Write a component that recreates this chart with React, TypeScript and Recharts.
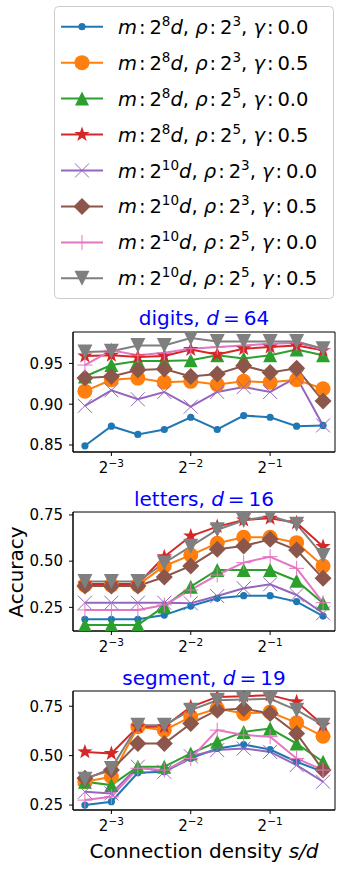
import { Line, LineChart, ReferenceArea, XAxis, YAxis } from "recharts";

const FONT = "DejaVu Sans";

// s/d at 1/3-octave steps, 2^-10/3 ... 2^-1/3
const DENSITY = [0.0992, 0.125, 0.1575, 0.1984, 0.25, 0.315, 0.3969, 0.5, 0.63, 0.7937];
const X_TICKS = [0.125, 0.25, 0.5];
const X_DOMAIN = [0.0894, 0.881];

const SERIES = [
  { key: "a", m: "8", rho: "3", gamma: "0.0", color: "#1f77b4", marker: "dot" },
  { key: "b", m: "8", rho: "3", gamma: "0.5", color: "#ff7f0e", marker: "circle" },
  { key: "c", m: "8", rho: "5", gamma: "0.0", color: "#2ca02c", marker: "triUp" },
  { key: "d", m: "8", rho: "5", gamma: "0.5", color: "#d62728", marker: "star" },
  { key: "e", m: "10", rho: "3", gamma: "0.0", color: "#9467bd", marker: "x" },
  { key: "f", m: "10", rho: "3", gamma: "0.5", color: "#8c564b", marker: "diamond" },
  { key: "g", m: "10", rho: "5", gamma: "0.0", color: "#e377c2", marker: "plus" },
  { key: "h", m: "10", rho: "5", gamma: "0.5", color: "#7f7f7f", marker: "triDown" },
];

const DIGITS = [
  [0.849, 0.873, 0.863, 0.869, 0.884, 0.869, 0.886, 0.884, 0.873, 0.874],
  [0.916, 0.930, 0.932, 0.927, 0.928, 0.924, 0.928, 0.927, 0.930, 0.919],
  [0.934, 0.948, 0.953, 0.953, 0.954, 0.960, 0.956, 0.960, 0.967, 0.960],
  [0.959, 0.960, 0.958, 0.959, 0.967, 0.961, 0.968, 0.970, 0.972, 0.966],
  [0.898, 0.917, 0.906, 0.915, 0.897, 0.915, 0.921, 0.915, 0.933, 0.874],
  [0.932, 0.934, 0.942, 0.943, 0.934, 0.937, 0.947, 0.939, 0.944, 0.904],
  [0.948, 0.966, 0.960, 0.963, 0.968, 0.970, 0.972, 0.974, 0.975, 0.968],
  [0.964, 0.965, 0.972, 0.972, 0.981, 0.977, 0.977, 0.977, 0.977, 0.968],
];

const LETTERS = [
  [0.185, 0.185, 0.185, 0.208, 0.257, 0.299, 0.313, 0.313, 0.281, 0.203],
  [0.370, 0.370, 0.370, 0.474, 0.533, 0.597, 0.629, 0.629, 0.600, 0.474],
  [0.155, 0.155, 0.155, 0.255, 0.362, 0.452, 0.452, 0.452, 0.394, 0.272],
  [0.376, 0.376, 0.376, 0.524, 0.636, 0.687, 0.723, 0.732, 0.708, 0.579],
  [0.275, 0.275, 0.275, 0.275, 0.272, 0.311, 0.353, 0.375, 0.317, 0.218],
  [0.366, 0.366, 0.366, 0.414, 0.474, 0.564, 0.582, 0.618, 0.560, 0.407],
  [0.236, 0.236, 0.236, 0.263, 0.344, 0.425, 0.492, 0.524, 0.461, 0.275],
  [0.390, 0.390, 0.390, 0.490, 0.580, 0.670, 0.720, 0.745, 0.700, 0.530],
];

const SEGMENT = [
  [0.250, 0.267, 0.413, 0.418, 0.486, 0.536, 0.556, 0.531, 0.469, 0.418],
  [0.368, 0.393, 0.646, 0.629, 0.696, 0.738, 0.713, 0.721, 0.666, 0.598],
  [0.368, 0.351, 0.444, 0.444, 0.511, 0.570, 0.620, 0.637, 0.561, 0.469],
  [0.519, 0.511, 0.646, 0.646, 0.747, 0.797, 0.801, 0.806, 0.772, 0.654],
  [0.317, 0.309, 0.444, 0.418, 0.497, 0.528, 0.536, 0.519, 0.452, 0.368],
  [0.385, 0.427, 0.561, 0.561, 0.662, 0.730, 0.738, 0.713, 0.612, 0.427],
  [0.275, 0.292, 0.436, 0.427, 0.486, 0.629, 0.604, 0.596, 0.486, 0.427],
  [0.380, 0.435, 0.654, 0.654, 0.730, 0.780, 0.784, 0.788, 0.730, 0.654],
];

const PANELS = [
  { name: "digits", d: "64", values: DIGITS, yDomain: [0.8414, 0.9885], yTicks: [0.85, 0.9, 0.95], top: 322, height: 160, titleY: 325 },
  { name: "letters", d: "16", values: LETTERS, yDomain: [0.122, 0.766], yTicks: [0.25, 0.5, 0.75], top: 502, height: 159, titleY: 506 },
  { name: "segment", d: "19", values: SEGMENT, yDomain: [0.225, 0.827], yTicks: [0.25, 0.5, 0.75], top: 681, height: 159, titleY: 685 },
];

function Marker({ kind, color, cx, cy }: { kind: string; color: string; cx: number; cy: number }) {
  switch (kind) {
    case "dot":
      return <circle cx={cx} cy={cy} r={3.6} fill={color} />;
    case "circle":
      return <circle cx={cx} cy={cy} r={7.5} fill={color} />;
    case "triUp":
      return <polygon points={`${cx},${cy - 7} ${cx - 7},${cy + 7} ${cx + 7},${cy + 7}`} fill={color} />;
    case "triDown":
      return <polygon points={`${cx},${cy + 7.5} ${cx - 7.5},${cy - 7.5} ${cx + 7.5},${cy - 7.5}`} fill={color} />;
    case "diamond":
      return <polygon points={`${cx},${cy - 8.5} ${cx + 8.5},${cy} ${cx},${cy + 8.5} ${cx - 8.5},${cy}`} fill={color} />;
    case "star": {
      const pts: string[] = [];
      for (let i = 0; i < 10; i++) {
        const r = i % 2 === 0 ? 8 : 3.2;
        const a = -Math.PI / 2 + (i * Math.PI) / 5;
        pts.push(`${cx + r * Math.cos(a)},${cy + r * Math.sin(a)}`);
      }
      return <polygon points={pts.join(" ")} fill={color} />;
    }
    case "x":
      return (
        <g stroke={color} strokeWidth={1}>
          <line x1={cx - 7} y1={cy - 7} x2={cx + 7} y2={cy + 7} />
          <line x1={cx - 7} y1={cy + 7} x2={cx + 7} y2={cy - 7} />
        </g>
      );
    case "plus":
      return (
        <g stroke={color} strokeWidth={1}>
          <line x1={cx - 7.5} y1={cy} x2={cx + 7.5} y2={cy} />
          <line x1={cx} y1={cy - 7.5} x2={cx} y2={cy + 7.5} />
        </g>
      );
    default:
      return null;
  }
}

function PowTick(props: any) {
  const { x, y, payload } = props;
  const e = Math.round(Math.log2(payload.value));
  return (
    <text x={x} y={y + 12} textAnchor="middle" fontSize={15} fontFamily={FONT} fill="#000">
      <tspan>2</tspan>
      <tspan dy={-6} fontSize={10.5}>{"\u2212" + -e}</tspan>
    </text>
  );
}

function Panel({ panel }: { panel: (typeof PANELS)[number] }) {
  const rows = DENSITY.map((x, i) => {
    const row: Record<string, number> = { x };
    SERIES.forEach((s, j) => {
      row[s.key] = panel.values[j][i];
    });
    return row;
  });

  return (
    <div style={{ position: "absolute", left: 0, top: panel.top }}>
      <LineChart width={345} height={panel.height} data={rows} margin={{ top: 10, right: 10, bottom: 0, left: 0 }}>
        <XAxis
          xAxisId="b"
          dataKey="x"
          type="number"
          scale="log"
          domain={X_DOMAIN}
          ticks={X_TICKS}
          allowDataOverflow
          tick={<PowTick />}
          tickSize={4}
          tickMargin={5}
          height={30}
          stroke="#000"
        />
        <YAxis
          yAxisId="l"
          type="number"
          domain={panel.yDomain}
          ticks={panel.yTicks}
          allowDataOverflow
          tickFormatter={(v: number) => v.toFixed(2)}
          tick={{ fontSize: 15, fontFamily: FONT, fill: "#000" }}
          tickSize={4}
          tickMargin={6}
          width={73}
          stroke="#000"
        />
        {SERIES.map((s) => (
          <Line
            key={s.key}
            xAxisId="b"
            yAxisId="l"
            dataKey={s.key}
            stroke={s.color}
            strokeWidth={2}
            isAnimationActive={false}
            activeDot={false}
            dot={(p: any) => <Marker key={`${s.key}-${p.index}`} kind={s.marker} color={s.color} cx={p.cx} cy={p.cy} />}
          />
        ))}
        <ReferenceArea
          xAxisId="b"
          yAxisId="l"
          x1={X_DOMAIN[0]}
          x2={X_DOMAIN[1]}
          y1={panel.yDomain[0]}
          y2={panel.yDomain[1]}
          fill="none"
          fillOpacity={0}
          stroke="#000"
          strokeWidth={1}
          ifOverflow="visible"
        />
      </LineChart>
    </div>
  );
}

function LegendLabel({ s, y }: { s: (typeof SERIES)[number]; y: number }) {
  const colon = "\u200a:\u2009";
  return (
    <text x={118} y={y + 7} fontSize={19.5} fontFamily={FONT} fill="#000">
      <tspan fontStyle="italic">m</tspan>
      <tspan>{colon}2</tspan>
      <tspan dy={-8} fontSize={13.5}>{s.m}</tspan>
      <tspan dy={8} fontStyle="italic">d</tspan>
      <tspan>, </tspan>
      <tspan fontStyle="italic">ρ</tspan>
      <tspan>{colon}2</tspan>
      <tspan dy={-8} fontSize={13.5}>{s.rho}</tspan>
      <tspan dy={8}>, </tspan>
      <tspan fontStyle="italic">γ</tspan>
      <tspan>{colon}{s.gamma}</tspan>
    </text>
  );
}

export default function App() {
  return (
    <div style={{ position: "absolute", left: 0, top: 0, width: 345, height: 870, background: "#fff" }}>
      {PANELS.map((p) => (
        <Panel key={p.name} panel={p} />
      ))}
      <svg width={345} height={870} style={{ position: "absolute", left: 0, top: 0, pointerEvents: "none" }}>
        <rect x={54.5} y={6.5} width={279} height={292} rx={4} fill="#fff" stroke="#cccccc" />
        {SERIES.map((s, i) => {
          const y = 26.7 + i * 35.95;
          return (
            <g key={s.key}>
              <line x1={61} y1={y} x2={103} y2={y} stroke={s.color} strokeWidth={2} />
              <Marker kind={s.marker} color={s.color} cx={82} cy={y} />
              <LegendLabel s={s} y={y} />
            </g>
          );
        })}
        {PANELS.map((p) => (
          <text key={p.name} x={204} y={p.titleY} textAnchor="middle" fontSize={20} fontFamily={FONT} fill="#0000ff">
            <tspan>{p.name}, </tspan>
            <tspan fontStyle="italic">d</tspan>
            <tspan>{"\u2009=\u2009"}{p.d}</tspan>
          </text>
        ))}
        <text x={204} y={858} textAnchor="middle" fontSize={20} fontFamily={FONT} fill="#000">
          <tspan>Connection density </tspan>
          <tspan fontStyle="italic">s/d</tspan>
        </text>
        <text x={23} y={572} transform="rotate(-90 23 572)" textAnchor="middle" fontSize={20} fontFamily={FONT} fill="#000">
          Accuracy
        </text>
      </svg>
    </div>
  );
}
